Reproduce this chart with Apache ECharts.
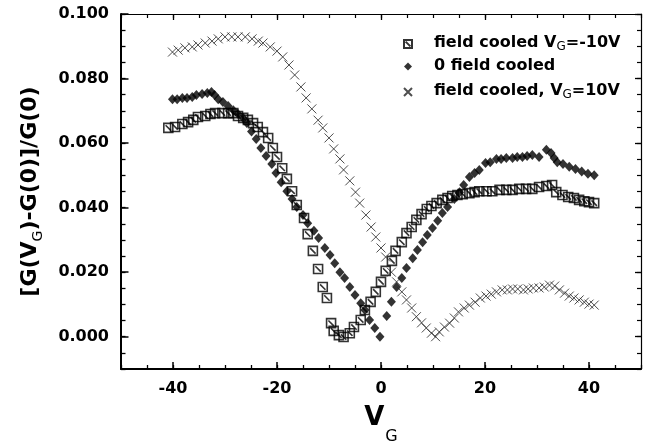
<!DOCTYPE html>
<html><head><meta charset="utf-8">
<script src="https://cdn.jsdelivr.net/npm/echarts@6/dist/echarts.min.js"></script>
<style>html,body{margin:0;padding:0;background:#fff}#c{width:646px;height:447px}</style>
</head><body><div id="c"></div>
<script>
// ---- data ----
const xTickLabels = [-40, -20, 0, 20, 40];
const yTickLabels = [0, 0.02, 0.04, 0.06, 0.08, 0.1];

const seriesNames = ['field cooled V_G=-10V', '0 field cooled', 'field cooled, V_G=10V'];

const sqV = [-40.9,-39.6,-38.2,-37.1,-36.1,-35.2,-33.8,-32.8,-31.9,-30.5,-29.4,-28.4,-27.5,-26.5,-25.6,-24.6,-23.7,-22.7,-21.7,-20.8,-20.0,-19.0,-18.1,-17.1,-16.2,-14.8,-14.1,-13.1,-12.1,-11.2,-10.4,-9.6,-9.1,-8.1,-7.2,-6.0,-5.2,-3.9,-3.1,-2.0,-1.0,0.0,0.9,2.1,2.8,4.0,4.9,5.9,6.8,7.8,8.8,9.7,10.7,11.8,12.8,13.7,14.7,15.7,17.0,18.0,18.9,20.3,21.4,22.8,24.1,25.3,26.6,27.9,29.1,30.4,31.8,32.9,33.7,34.9,36.0,37.1,38.1,39.1,40.0,41.0];
const sqY = [0.0647,0.0650,0.0659,0.0665,0.0672,0.0681,0.0684,0.0690,0.0693,0.0693,0.0693,0.0693,0.0684,0.0678,0.0672,0.0662,0.0650,0.0634,0.0616,0.0585,0.0557,0.0522,0.0489,0.0451,0.0408,0.0368,0.0318,0.0266,0.0210,0.0154,0.0120,0.0042,0.0018,0.0005,-0.0001,0.0011,0.0030,0.0052,0.0083,0.0108,0.0139,0.0170,0.0204,0.0235,0.0266,0.0293,0.0321,0.0340,0.0362,0.0380,0.0396,0.0405,0.0414,0.0424,0.0430,0.0436,0.0439,0.0442,0.0445,0.0448,0.0451,0.0451,0.0451,0.0455,0.0455,0.0455,0.0458,0.0458,0.0458,0.0464,0.0467,0.0470,0.0448,0.0439,0.0433,0.0430,0.0424,0.0420,0.0417,0.0414];

const dmV = [-40.1,-39.2,-38.2,-37.3,-36.3,-35.5,-34.4,-33.4,-32.6,-32.0,-31.3,-30.4,-29.4,-28.4,-27.5,-26.5,-25.8,-24.9,-24.0,-23.1,-22.1,-21.0,-20.2,-19.2,-18.1,-17.1,-16.2,-15.0,-14.1,-12.9,-12.0,-10.8,-9.8,-8.9,-7.9,-7.0,-6.0,-5.0,-3.9,-3.1,-2.2,-1.2,-0.2,1.1,2.0,3.0,4.0,4.9,6.1,7.0,8.0,8.9,9.9,10.9,11.8,12.8,14.1,15.1,15.9,17.0,18.0,18.9,20.1,21.0,22.2,23.1,24.1,25.3,26.2,27.2,28.1,29.1,30.4,31.8,32.7,33.3,33.9,35.0,36.2,37.4,38.6,39.8,41.0];
const dmY = [0.0736,0.0736,0.0740,0.0740,0.0743,0.0749,0.0752,0.0755,0.0758,0.0749,0.0736,0.0727,0.0715,0.0702,0.0690,0.0678,0.0662,0.0636,0.0613,0.0585,0.0560,0.0535,0.0507,0.0479,0.0451,0.0427,0.0402,0.0377,0.0352,0.0328,0.0306,0.0275,0.0253,0.0228,0.0200,0.0182,0.0154,0.0129,0.0104,0.0083,0.0052,0.0027,0.0000,0.0064,0.0108,0.0154,0.0182,0.0213,0.0243,0.0269,0.0293,0.0315,0.0337,0.0359,0.0383,0.0402,0.0427,0.0448,0.0470,0.0495,0.0507,0.0517,0.0538,0.0541,0.0551,0.0551,0.0554,0.0554,0.0557,0.0557,0.0560,0.0563,0.0557,0.0579,0.0569,0.0554,0.0541,0.0535,0.0527,0.0520,0.0512,0.0505,0.0500];

const crV = [-40.1,-39.0,-37.7,-36.3,-35.2,-33.8,-32.5,-31.3,-30.0,-28.7,-27.5,-26.1,-24.8,-23.6,-22.7,-21.3,-20.0,-18.9,-17.7,-16.6,-15.4,-14.4,-13.3,-12.1,-11.2,-10.0,-9.1,-7.9,-7.2,-6.0,-4.9,-4.1,-2.9,-1.9,-1.0,0.0,0.9,2.0,3.0,4.0,4.9,5.9,6.8,7.8,8.7,9.7,10.5,11.2,12.2,13.2,14.1,14.9,16.0,17.0,18.1,19.1,20.2,21.2,22.2,23.3,24.3,25.3,26.3,27.4,28.3,29.3,30.4,31.4,32.4,33.4,34.3,35.3,36.2,37.1,38.1,39.1,40.0,41.0];
const crY = [0.0882,0.0888,0.0895,0.0898,0.0904,0.0910,0.0916,0.0923,0.0929,0.0929,0.0929,0.0929,0.0923,0.0916,0.0910,0.0898,0.0885,0.0867,0.0842,0.0811,0.0774,0.0740,0.0706,0.0671,0.0647,0.0616,0.0582,0.0551,0.0517,0.0483,0.0448,0.0414,0.0377,0.0340,0.0309,0.0275,0.0247,0.0200,0.0170,0.0139,0.0114,0.0089,0.0062,0.0043,0.0027,0.0011,0.0000,0.0015,0.0030,0.0042,0.0058,0.0077,0.0089,0.0098,0.0107,0.0120,0.0126,0.0132,0.0139,0.0145,0.0145,0.0148,0.0148,0.0145,0.0148,0.0151,0.0151,0.0154,0.0160,0.0157,0.0145,0.0135,0.0126,0.0120,0.0114,0.0107,0.0101,0.0098];

// ---- chart ----
const zip = (a, b) => a.map((v, i) => [v, b[i]]);
const FONT = 'DejaVu Sans';
const subRich = {
  n: {fontFamily: FONT, fontWeight: 'bold', fontSize: 16, color: '#000', lineHeight: 18, verticalAlign: 'top'},
  s: {fontFamily: FONT, fontWeight: 'normal', fontSize: 12, color: '#000', lineHeight: 10, verticalAlign: 'bottom', padding: [10, 0, 0, 0]},
  sp: {width: 17}
};
function legendText(name) {
  const parts = name.split('_G');
  if (parts.length === 1) return '{sp|}{n|' + name + '}';
  return '{sp|}{n|' + parts[0] + '}{s|G}{n|' + parts[1] + '}';
}

const SQ = 'path://M0,0L10,0L10,10L0,10Z M2,2L8,8';
const CR = 'path://M0,0L10,10M10,0L0,10';

const xCommon = {type: 'value', min: -50, max: 50, splitLine: {show: false}};
const yCommon = {type: 'value', min: -0.01, max: 0.1, splitLine: {show: false}};
const lblStyle = {fontFamily: FONT, fontWeight: 'bold', fontSize: 16, color: '#000'};

const option = {
  animation: false,
  backgroundColor: '#fff',
  grid: {left: 121, right: 5, top: 14, bottom: 78, containLabel: false, outerBoundsMode: 'none'},
  xAxis: [
    Object.assign({}, xCommon, {position: 'bottom', interval: 5,
      axisLine: {show: true, onZero: false, lineStyle: {color: '#000', width: 2}},
      axisTick: {inside: true, length: 4, lineStyle: {color: '#000', width: 1.3}},
      axisLabel: {show: false}}),
    Object.assign({}, xCommon, {position: 'bottom',
      axisLine: {show: false, onZero: false},
      axisTick: {inside: true, length: 7, customValues: xTickLabels, lineStyle: {color: '#000', width: 1.5}},
      axisLabel: Object.assign({margin: 12, customValues: xTickLabels, formatter: v => String(v)}, lblStyle),
      name: '{v|V}{s|G}', nameLocation: 'middle', nameGap: 36, nameMoveOverlap: false,
      nameTextStyle: {verticalAlign: 'top', rich: {
        v: {fontFamily: FONT, fontWeight: 'bold', fontSize: 26, color: '#000', lineHeight: 28, verticalAlign: 'top'},
        s: {fontFamily: FONT, fontWeight: 'normal', fontSize: 16, color: '#000', lineHeight: 40, verticalAlign: 'bottom', padding: [0, 0, 0, 1]}
      }}}),
    Object.assign({}, xCommon, {position: 'top', interval: 5,
      axisLine: {show: true, onZero: false, lineStyle: {color: '#000', width: 1.2}},
      axisTick: {inside: true, length: 4, lineStyle: {color: '#000', width: 1.2}},
      axisLabel: {show: false}}),
    Object.assign({}, xCommon, {position: 'top',
      axisLine: {show: false, onZero: false},
      axisTick: {inside: true, length: 6, customValues: xTickLabels, lineStyle: {color: '#000', width: 1.3}},
      axisLabel: {show: false}})
  ],
  yAxis: [
    Object.assign({}, yCommon, {position: 'left', interval: 0.005,
      axisLine: {show: true, onZero: false, lineStyle: {color: '#000', width: 2}},
      axisTick: {inside: true, length: 4.5, lineStyle: {color: '#000', width: 1.3}},
      axisLabel: {show: false}}),
    Object.assign({}, yCommon, {position: 'left',
      axisLine: {show: false, onZero: false},
      axisTick: {inside: true, length: 7.5, customValues: yTickLabels, lineStyle: {color: '#000', width: 1.5}},
      axisLabel: Object.assign({margin: 12, customValues: yTickLabels, formatter: v => v.toFixed(3)}, lblStyle),
      name: '{n|[G(V}{s|G}{n|)-G(0)]/G(0)}', nameLocation: 'middle', nameGap: 76, nameRotate: 90,
      nameTextStyle: {rich: {
        n: {fontFamily: FONT, fontWeight: 'bold', fontSize: 22, color: '#000', lineHeight: 26, verticalAlign: 'top'},
        s: {fontFamily: FONT, fontWeight: 'normal', fontSize: 14, color: '#000', lineHeight: 14, verticalAlign: 'bottom', padding: [20, 0, 0, 0]}
      }}}),
    Object.assign({}, yCommon, {position: 'right', interval: 0.005,
      axisLine: {show: true, onZero: false, lineStyle: {color: '#000', width: 1.2}},
      axisTick: {inside: true, length: 4, lineStyle: {color: '#000', width: 1.2}},
      axisLabel: {show: false}}),
    Object.assign({}, yCommon, {position: 'right',
      axisLine: {show: false, onZero: false},
      axisTick: {inside: true, length: 6, customValues: yTickLabels, lineStyle: {color: '#000', width: 1.3}},
      axisLabel: {show: false}})
  ],
  legend: {
    orient: 'vertical', left: 403, top: 31, padding: 0, itemWidth: 8, itemHeight: 8, itemGap: 4.5,
    selectedMode: false,
    data: seriesNames,
    formatter: legendText,
    textStyle: {fontFamily: FONT, fontWeight: 'bold', fontSize: 16, color: '#000', rich: subRich}
  },
  series: [
    {name: seriesNames[0], type: 'scatter', data: zip(sqV, sqY), symbol: SQ, symbolSize: 9,
      itemStyle: {color: 'rgba(255,255,255,0)', borderColor: '#000', borderWidth: 1.6}},
    {name: seriesNames[1], type: 'scatter', data: zip(dmV, dmY), symbol: 'diamond', symbolSize: [9, 10],
      itemStyle: {color: '#000', borderWidth: 0}},
    {name: seriesNames[2], type: 'scatter', data: zip(crV, crY), symbol: CR, symbolSize: 9,
      itemStyle: {color: 'rgba(255,255,255,0)', borderColor: '#222', borderWidth: 1}}
  ]
};
const chart = echarts.init(document.getElementById('c'), null, {renderer: 'canvas'});
chart.setOption(option);
</script></body></html>
